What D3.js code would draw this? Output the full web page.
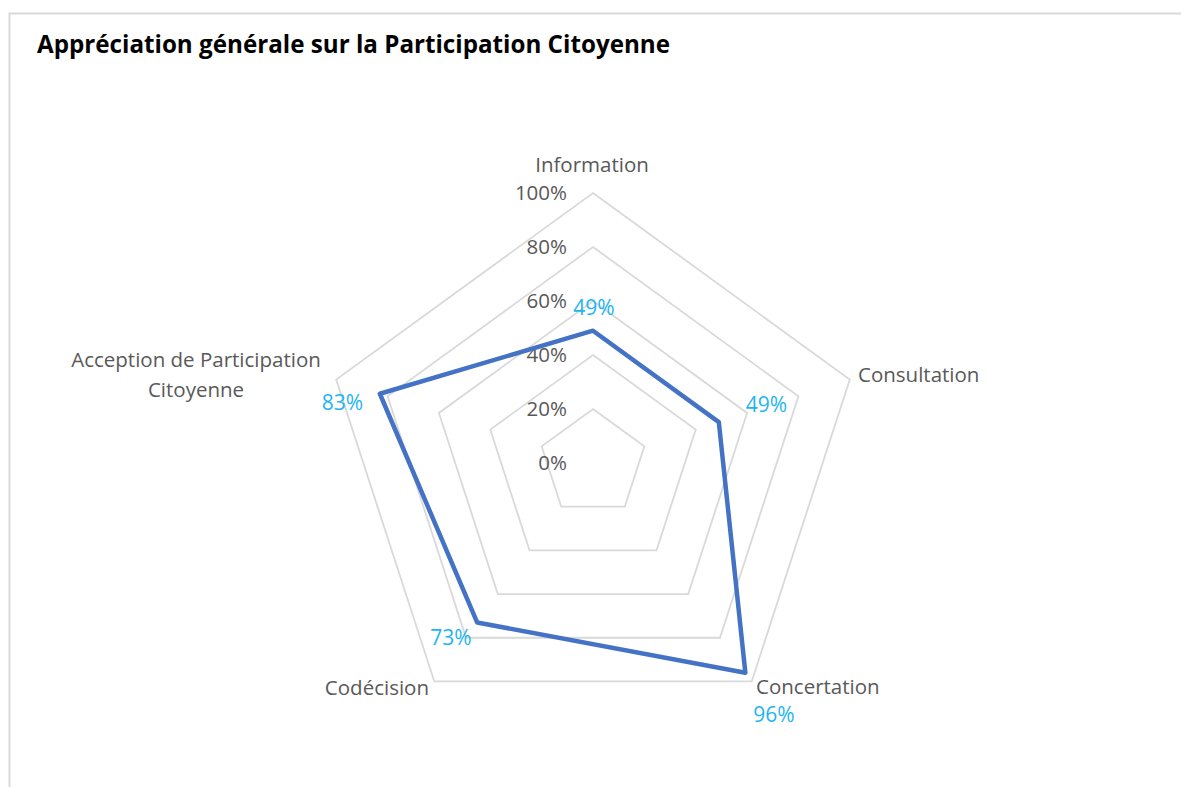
<!DOCTYPE html>
<html><head><meta charset="utf-8">
<script src="https://cdn.jsdelivr.net/npm/d3@7"></script>
<style>html,body{margin:0;padding:0;background:#fff;}svg{display:block;}</style>
</head><body>
<script>
const categories = ["Information", "Consultation", "Concertation", "Codécision", "Acception de Participation Citoyenne"];
const values = [0.49, 0.49, 0.96, 0.73, 0.83];
const tickValues = [0, 0.2, 0.4, 0.6, 0.8, 1.0];
const title = "Appréciation générale sur la Participation Citoyenne";

const W = 1181, H = 787;
const svg = d3.select("body").append("svg").attr("width", W).attr("height", H);
svg.append("rect").attr("x", 9.5).attr("y", 13.5).attr("width", W + 10).attr("height", H + 10)
  .attr("fill", "#fff").attr("stroke", "#d9d9d9").attr("stroke-width", 2);

svg.append("text").attr("x", 37).attr("y", 53).text(title)
  .attr("font-family", "'Open Sans', sans-serif").attr("font-weight", 700).attr("font-size", 24.2)
  .attr("fill", "#000");

const cx = 593, cy = 463;
const r = d3.scaleLinear().domain([0, 1]).range([0, 270]);
const ang = d3.scaleLinear().domain([0, categories.length]).range([0, 2 * Math.PI]);
const pt = (i, v) => [cx + r(v) * Math.sin(ang(i)), cy - r(v) * Math.cos(ang(i))];

const g = svg.append("g");
const fontF = "'Open Sans', sans-serif";
const fs = 20.5;
// rings
tickValues.forEach(t => {
  if (t === 0) return;
  const pts = categories.map((c, i) => pt(i, t));
  g.append("path").attr("d", d3.line()(pts) + "Z").attr("fill", "none")
    .attr("stroke", "#d9d9d9").attr("stroke-width", 1.8);
});
// tick labels
const fmt = d3.format(".0%");
tickValues.forEach(t => {
  g.append("text").attr("x", cx - 26).attr("y", cy - r(t)).attr("dy", "0.35em")
    .attr("text-anchor", "end").text(fmt(t))
    .attr("font-family", fontF).attr("font-size", fs).attr("fill", "#595959");
});
// data line
const dpts = values.map((v, i) => pt(i, v));
g.append("path").attr("d", d3.line()(dpts) + "Z").attr("fill", "none")
  .attr("stroke", "#4472C4").attr("stroke-width", 4.5).attr("stroke-linejoin", "round");

// category labels
const catPos = [
  {x: 592, y: 165, a: "middle"},
  {x: 858, y: 375, a: "start"},
  {x: 756, y: 687, a: "start"},
  {x: 429, y: 688, a: "end"},
  {x: 196, y: 360, a: "middle"}
];
categories.forEach((c, i) => {
  const p = catPos[i];
  const t = g.append("text").attr("x", p.x).attr("y", p.y).attr("text-anchor", p.a)
    .attr("font-family", fontF).attr("font-size", fs).attr("fill", "#595959");
  if (i === 4) {
    t.append("tspan").attr("x", p.x).attr("dy", "0.35em").text("Acception de Participation");
    t.append("tspan").attr("x", p.x).attr("dy", 30).text("Citoyenne");
  } else {
    t.attr("dy", "0.35em").text(c);
  }
});
// data labels
const offs = [[1, -23, "middle"], [27, -17, "start"], [8, 42, "start"], [-47, 15, "start"], [-58, 9, "start"]];
values.forEach((v, i) => {
  const p = pt(i, v);
  g.append("text").attr("x", p[0] + offs[i][0]).attr("y", p[1] + offs[i][1]).attr("dy", "0.35em")
    .attr("text-anchor", offs[i][2]).text(fmt(v))
    .attr("font-family", fontF).attr("font-size", 21).attr("fill", "#1FB5F0");
});
</script>
</body></html>
